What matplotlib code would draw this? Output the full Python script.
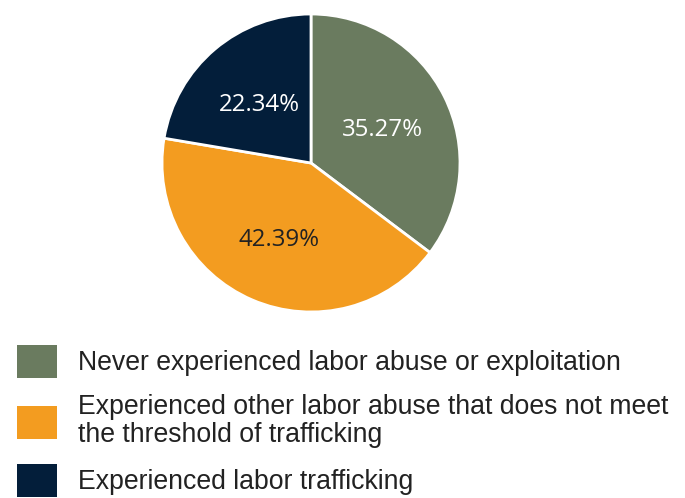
import matplotlib
matplotlib.use("Agg")
import matplotlib.pyplot as plt

categories = [
    "Never experienced labor abuse or exploitation",
    "Experienced other labor abuse that does not meet\nthe threshold of trafficking",
    "Experienced labor trafficking",
]
values = [35.27, 42.39, 22.34]
colors = ["#6A7B5F", "#F39C20", "#031E3A"]
pct_colors = ["white", "#222222", "white"]

W, H = 685, 498
fig = plt.figure(figsize=(W / 100, H / 100), dpi=100)
cx, cy, r = 311, 163, 149
ax = fig.add_axes([(cx - r) / W, 1 - (cy + r) / H, 2 * r / W, 2 * r / H])

wedges, texts, autotexts = ax.pie(
    values, colors=colors, startangle=90, counterclock=False,
    autopct=lambda p: f"{p:.2f}%", pctdistance=0.54,
    wedgeprops=dict(edgecolor="white", linewidth=2),
    textprops=dict(family="Open Sans", fontsize=17.3),
)
for t, c in zip(autotexts, pct_colors):
    t.set_color(c)
    t.set_verticalalignment("center_baseline")
ax.set_xlim(-1, 1)
ax.set_ylim(-1, 1)
ax.set_aspect("equal")
ax.axis("off")

fs = 19.2
fpx = fs * 100 / 72
# patch height = fs*(0.65*hh + 0.245) -> 33 px
hh = (33 * 0.72 / fs - 0.245) / 0.65
leg = fig.legend(
    wedges, categories, loc="upper left",
    bbox_to_anchor=(17 / W, 1 - 345 / H), frameon=False,
    prop=dict(family="Liberation Sans", size=fs),
    handlelength=40 / fpx, handleheight=hh, handletextpad=21 / fpx,
    labelspacing=0.6, borderpad=0, borderaxespad=0,
)
for t in leg.get_texts():
    t.set_color("#222222")
    t.set_linespacing(1.1)
for h in leg.legend_handles:
    h.set_edgecolor("none")

fig.savefig("out.png", dpi=100)
